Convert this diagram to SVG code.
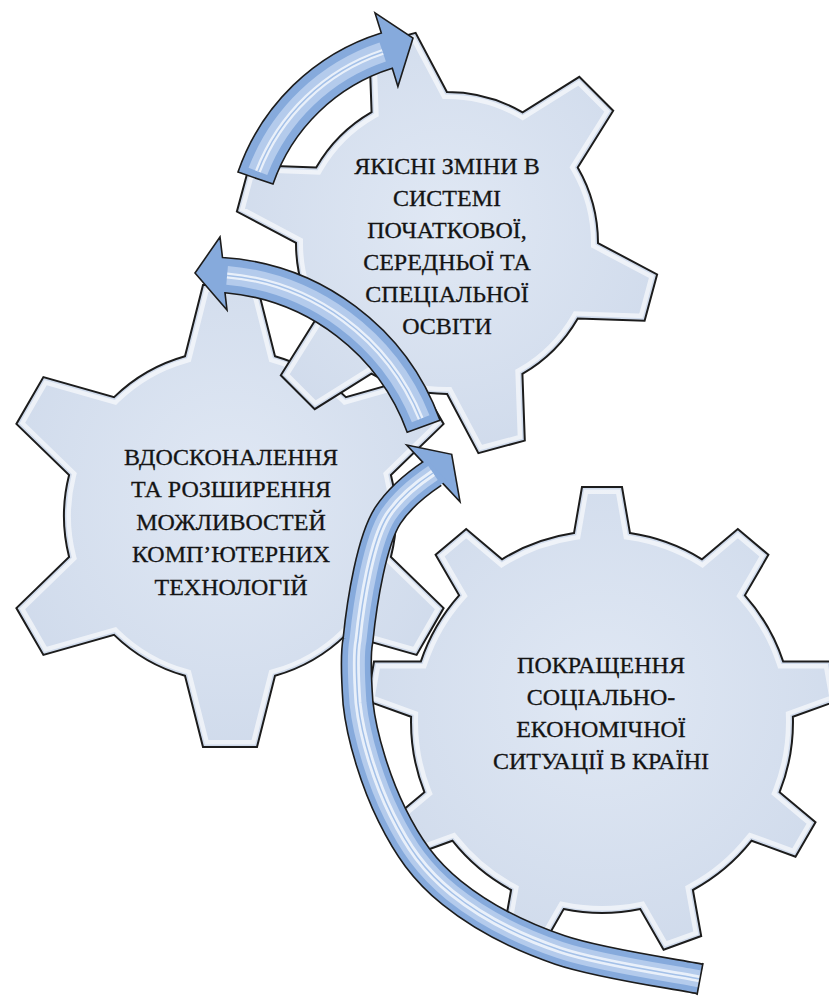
<svg xmlns="http://www.w3.org/2000/svg" xmlns:xlink="http://www.w3.org/1999/xlink" width="829" height="997" viewBox="0 0 829 997">
<style>
.gf{fill:url(#gFill);stroke:none}
.go{fill:none;stroke:#1c1c1c;stroke-width:2;stroke-linejoin:miter}
.bev{fill:none;stroke:#ffffff;stroke-width:14;opacity:.6}
.bev2{fill:none;stroke:#d0dbec;stroke-width:5}
.lbl{font-family:"Liberation Serif","Times New Roman",serif;font-size:24px;fill:#141414;stroke:#141414;stroke-width:0.3;text-anchor:middle}
.arw{fill:#86aadc;stroke:#1c1c1c;stroke-width:1.6;stroke-linejoin:miter}
.hl1{fill:none;stroke:#b4cbec}
.hl2{fill:none;stroke:#f2f7fd;opacity:.85}
.hl3{fill:none;stroke:#a3c0e8}
</style>
<defs>
<radialGradient id="gFill" cx="50%" cy="45%" r="60%">
<stop offset="0" stop-color="#e0e8f4"/>
<stop offset="1" stop-color="#cfdaeb"/>
</radialGradient>
<path id="pLeft" d="M185,356.2 L203,285 L257,285 L275,356.2 A166,166 0 0 1 345.9,397.1 L416.6,377.1 L443.6,423.9 L390.9,475.1 A166,166 0 0 1 390.9,556.9 L443.6,608.1 L416.6,654.9 L345.9,634.9 A166,166 0 0 1 275,675.8 L257,747 L203,747 L185,675.8 A166,166 0 0 1 114.1,634.9 L43.4,654.9 L16.4,608.1 L69.1,556.9 A166,166 0 0 1 69.1,475.1 L16.4,423.9 L43.4,377.1 L114.1,397.1 A166,166 0 0 1 185,356.2 Z"/>
<path id="pTop" d="M371.6,112.2 L369.2,45.4 L415.6,32.9 L446.9,92 A151,151 0 0 1 522.6,112.3 L579.3,76.8 L613.2,110.7 L577.7,167.4 A151,151 0 0 1 598,243.1 L657.1,274.4 L644.6,320.8 L577.8,318.4 A151,151 0 0 1 522.4,373.8 L524.8,440.6 L478.4,453.1 L447.1,394 A151,151 0 0 1 371.4,373.7 L314.7,409.2 L280.8,375.3 L316.3,318.6 A151,151 0 0 1 296,242.9 L236.9,211.6 L249.4,165.2 L316.2,167.6 A151,151 0 0 1 371.6,112.2 Z"/>
<path id="pBig" d="M574,533.1 L582,487 L622,487 L630,533.1 A191,191 0 0 1 702,559.3 L737.8,529.1 L768.4,554.8 L744.9,595.3 A191,191 0 0 1 783.2,661.6 L830,661.5 L836.9,700.9 L792.9,716.8 A191,191 0 0 1 779.6,792.2 L815.5,822.2 L795.5,856.8 L751.6,840.7 A191,191 0 0 1 692.9,890 L701.2,936 L663.6,949.7 L640.3,909.1 A191,191 0 0 1 563.7,909.1 L540.4,949.7 L502.8,936 L511.1,890 A191,191 0 0 1 452.4,840.7 L408.5,856.8 L388.5,822.2 L424.4,792.2 A191,191 0 0 1 411.1,716.8 L367.1,700.9 L374,661.5 L420.8,661.6 A191,191 0 0 1 459.1,595.3 L435.6,554.8 L466.2,529.1 L502,559.3 A191,191 0 0 1 574,533.1 Z"/>
<clipPath id="cLeft"><use xlink:href="#pLeft" href="#pLeft"/></clipPath>
<clipPath id="cTop"><use xlink:href="#pTop" href="#pTop"/></clipPath>
<clipPath id="cBig"><use xlink:href="#pBig" href="#pBig"/></clipPath>
<path id="cMid" d="M700,979 C676.7,974 601.3,964 560,950 C518.7,936 480,915.5 452,893 C424,870.5 407.7,846.7 392,815 C376.3,783.3 361.7,738 358,703 C356,675 356,650 358,640 C362,600 372,540 387.8,515.5 C398,500 415,485 433,473"/>
</defs>
<rect x="0" y="0" width="829" height="997" fill="#ffffff"/>

<g id="gear-left">
<use href="#pLeft" class="gf"/>
<use href="#pLeft" class="bev" clip-path="url(#cLeft)"/>
<use href="#pLeft" class="bev2" clip-path="url(#cLeft)"/>
<use href="#pLeft" class="go"/>
<text class="lbl" x="231" y="465">ВДОСКОНАЛЕННЯ</text>
<text class="lbl" x="231" y="497">ТА РОЗШИРЕННЯ</text>
<text class="lbl" x="231" y="530">МОЖЛИВОСТЕЙ</text>
<text class="lbl" x="231" y="562">КОМП’ЮТЕРНИХ</text>
<text class="lbl" x="231" y="595">ТЕХНОЛОГІЙ</text>
</g>

<g id="gear-top">
<use href="#pTop" class="gf"/>
<use href="#pTop" class="bev" clip-path="url(#cTop)"/>
<use href="#pTop" class="bev2" clip-path="url(#cTop)"/>
<use href="#pTop" class="go"/>
<text class="lbl" x="447" y="174">ЯКІСНІ ЗМІНИ В</text>
<text class="lbl" x="447" y="206">СИСТЕМІ</text>
<text class="lbl" x="447" y="238">ПОЧАТКОВОЇ,</text>
<text class="lbl" x="447" y="270">СЕРЕДНЬОЇ ТА</text>
<text class="lbl" x="447" y="302">СПЕЦІАЛЬНОЇ</text>
<text class="lbl" x="447" y="334">ОСВІТИ</text>
</g>

<g id="gear-big">
<use href="#pBig" class="gf"/>
<use href="#pBig" class="bev" clip-path="url(#cBig)"/>
<use href="#pBig" class="bev2" clip-path="url(#cBig)"/>
<use href="#pBig" class="go"/>
<text class="lbl" x="601" y="673">ПОКРАЩЕННЯ</text>
<text class="lbl" x="601" y="705">СОЦІАЛЬНО-</text>
<text class="lbl" x="601" y="737">ЕКОНОМІЧНОЇ</text>
<text class="lbl" x="601" y="769">СИТУАЦІЇ В КРАЇНІ</text>
</g>

<g id="connectors">
<g id="arrow-top">
<path class="arw" d="M238,172 A221,221 0 0 1 381.3,33 L375,12.9 L413,38 L397.9,86.5 L392.3,68.3 A184,184 0 0 0 273,184.1 Z"/>
<path class="hl1" stroke-width="20" d="M257.9,171.4 A202.5,202.5 0 0 1 382.7,52"/>
<path class="hl2" stroke-width="6" d="M257.9,171.4 A202.5,202.5 0 0 1 382.7,52"/>
<path class="hl3" stroke-width="1.5" d="M257.9,171.4 A202.5,202.5 0 0 1 382.7,52"/>
</g>
<g id="arrow-mid">
<path class="arw" d="M440,420.2 A248,248 0 0 0 222.5,257.5 L220,237 L195,273 L227,310 L225,292.8 A213,213 0 0 1 407.2,432.2 Z"/>
<path class="hl1" stroke-width="19" d="M420.7,418.7 A230.5,230.5 0 0 0 227.1,275.4"/>
<path class="hl2" stroke-width="6" d="M420.7,418.7 A230.5,230.5 0 0 0 227.1,275.4"/>
<path class="hl3" stroke-width="1.5" d="M420.7,418.7 A230.5,230.5 0 0 0 227.1,275.4"/>
</g>
<g id="arrow-big">
<use href="#cMid" fill="none" stroke="#1c1c1c" stroke-width="31.5"/>
<path class="arw" d="M422.7,462.1 L406.7,445 L451.7,454.3 L460,501.7 L443.3,483.9 Z"/>
<path fill="none" stroke="#86aadc" stroke-width="28.3" d="M700,979 C676.7,974 601.3,964 560,950 C518.7,936 480,915.5 452,893 C424,870.5 407.7,846.7 392,815 C376.3,783.3 361.7,738 358,703 C356,675 356,650 358,640 C362,600 372,540 387.8,515.5 C398,500 415,485 433,473 L436.5,469.7"/>
<use href="#cMid" class="hl1" stroke-width="17"/>
<use href="#cMid" class="hl2" stroke-width="7"/>
<use href="#cMid" class="hl3" stroke-width="1.5"/>
<line x1="703" y1="963" x2="697" y2="995" stroke="#1c1c1c" stroke-width="1.6"/>
</g>
</g>
</svg>
